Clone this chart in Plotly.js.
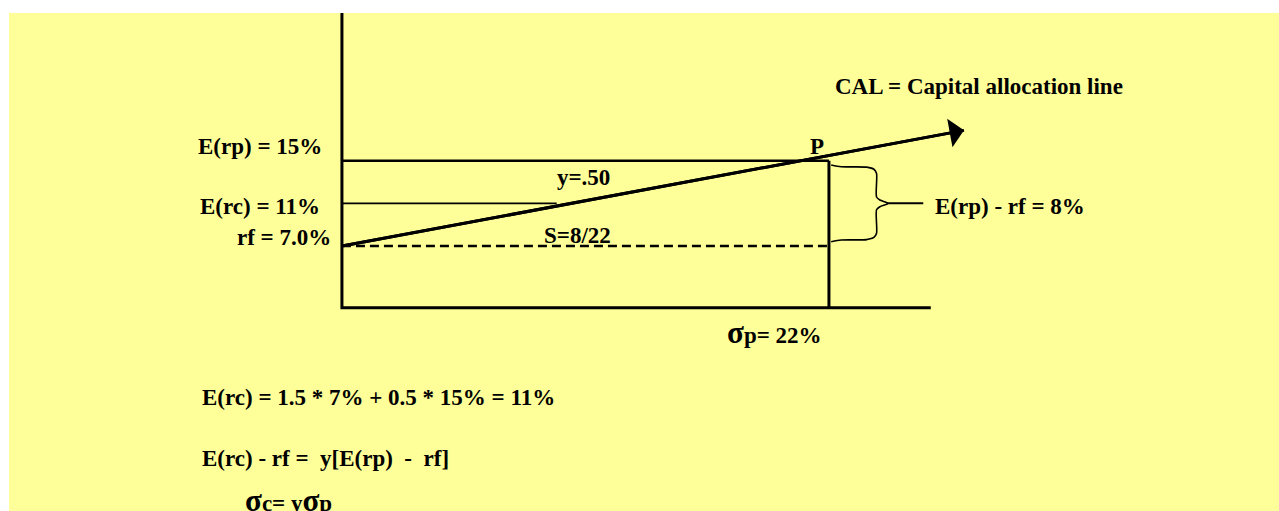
<!DOCTYPE html>
<html>
<head>
<meta charset="utf-8">
<script src="https://cdn.plot.ly/plotly-3.0.1.min.js"></script>
<style>
  html, body { margin: 0; padding: 0; background: #fff; }
  #myChart { position: absolute; left: 9px; top: 13px; width: 1270px; height: 498px; }
</style>
</head>
<body>
<div id="myChart"></div>
<script>
'use strict';

// values (sigma and return in %)
const rf      = 7;
const erp     = 15;
const erc     = 11;
const sigmaP  = 22;
const calSigma  = [0, 28.1];
const calReturn = [7, 17.85];
const ercSigma  = [0, 9.7];
const axisSigma  = [0, 0, 26.6];
const axisReturn = [30, 1.2, 1.2];

const levelLabels = ['E(rp) = 15%', 'E(rc) = 11%', 'rf = 7.0%'];
const formulas = [
  'E(rc) = 1.5 * 7% + 0.5 * 15% = 11%',
  'E(rc) - rf =\u00a0 y[E(rp)\u00a0 -\u00a0 rf]',
  '<span style="font-size:31px">σ</span>c= y<span style="font-size:31px">σ</span>p'
];

const FONT = { family: '"Liberation Serif", "Times New Roman", serif', size: 23, color: '#000', weight: 'bold' };
const black = '#000';

function renderChart() {
  const mid = (erp + rf) / 2;
  const half = (erp - rf) / 2;
  // brace profile, from the box edge out to the pinch
  const bx = [0.1, 0.55, 1.7, 2.03, 2.15, 2.15, 2.3, 2.68];
  const by = [0.9, 0.86, 0.85, 0.8, 0.7, 0.15, 0.08, 0];
  const braceX = [...bx, ...bx.slice(0, -1).reverse()].map(d => sigmaP + d);
  const braceY = [...by.map(f => mid + f * half), ...by.slice(0, -1).reverse().map(f => mid - f * half)];

  const line = (x, y, width, extra = {}) => ({
    x, y, mode: 'lines', hoverinfo: 'skip', showlegend: false,
    line: Object.assign({ color: black, width }, extra)
  });

  const traces = [
    line(axisSigma, axisReturn, 3),
    line([0, sigmaP], [erp, erp], 2.5),
    line([sigmaP, sigmaP], [erp, axisReturn[1]], 3),
    line([0, sigmaP], [rf, rf], 2.5, { dash: '9px,5px' }),
    line(ercSigma, [erc, erc], 1.6),
    line(braceX, braceY, 1.6, { shape: 'spline', smoothing: 0.7 }),
    line([sigmaP + 2.6, sigmaP + 4.26], [mid, mid], 2),
    line(calSigma, calReturn, 3)
  ];

  const ann = (text, x, y, xanchor, extra = {}) => Object.assign({
    text, x, y, xref: 'x', yref: 'y', xanchor, yanchor: 'middle',
    showarrow: false, font: FONT
  }, extra);

  const annotations = [
    // arrowhead at the end of the CAL
    {
      text: '', x: calSigma[1], y: calReturn[1], xref: 'x', yref: 'y',
      ax: calSigma[0], ay: calReturn[0], axref: 'x', ayref: 'y',
      showarrow: true, arrowhead: 1, arrowsize: 1.6, arrowwidth: 3,
      arrowcolor: black, standoff: 0
    },
    ann('CAL = Capital allocation line', 22.18, 21.92, 'left'),
    ann(levelLabels[0], -0.81, 16.38, 'right'),
    ann(levelLabels[1], -0.9, 10.75, 'right'),
    ann(levelLabels[2], -0.41, 7.84, 'right'),
    ann('P', 21.48, 16.31, 'center'),
    ann('y=.50', 10.89, 13.47, 'center'),
    ann('S=8/22', 10.62, 7.94, 'center'),
    ann('E(rp) - rf = 8%', 26.7, 10.69, 'left'),
    ann('<span style="font-size:31px">σ</span>p= 22%', 17.3, -1.16, 'left'),
    ann(formulas[0], -6.41, -7.21, 'left'),
    ann(formulas[1], -6.41, -12.98, 'left'),
    ann(formulas[2], -4.47, -16.83, 'left')
  ];

  const hidden = { visible: false, fixedrange: true };
  const layout = {
    width: 1270, height: 498, autosize: false,
    paper_bgcolor: '#ffff99',
    plot_bgcolor:  '#ffff99',
    margin: { t: 0, b: 0, l: 0, r: 0, pad: 0 },
    font: FONT,
    xaxis: Object.assign({ range: [-15.04, 42.33] }, hidden),
    yaxis: Object.assign({ range: [-17.86, 28.86] }, hidden),
    annotations
  };

  Plotly.newPlot('myChart', traces, layout, { displayModeBar: false, staticPlot: true });
}

renderChart();
</script>
</body>
</html>
